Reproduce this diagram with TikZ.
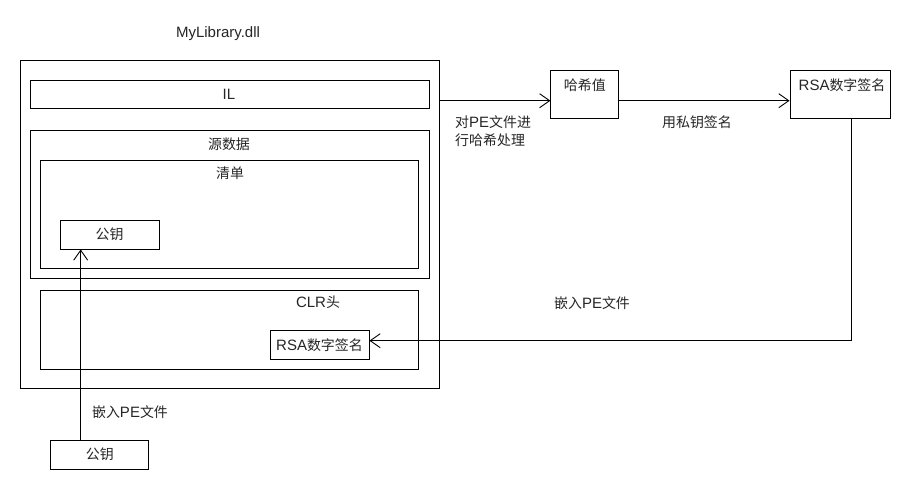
\documentclass[tikz,border=0pt]{standalone}
\usepackage{fontspec}
\setmainfont{Liberation Sans}
\newfontfamily\cjk{Noto Sans CJK SC}[Scale=0.93]
\usetikzlibrary{arrows.meta}
\begin{document}
\begin{tikzpicture}[x=1pt,y=-1pt,
  box/.style={draw=black,line width=0.9pt,minimum width=#1,inner sep=0pt},
  txt/.style={font=\fontsize{15}{17}\selectfont,inner sep=0pt,text=black!85},
  arr/.style={draw=black,line width=0.9pt,-{Straight Barb[length=10pt,width=14pt,line width=0.9pt]}},
  ln/.style={draw=black,line width=0.9pt}]
\useasboundingbox[fill=white] (0,0) rectangle (920,490);
% left structure
\node[box=419pt,minimum height=328pt] (outer) at (229.85,224.7) {};
\node[box=399pt,minimum height=28pt] (il) at (229.5,94.85) {};
\node[box=399pt,minimum height=148pt] (meta) at (229.5,204.85) {};
\node[box=378pt,minimum height=108pt] (mani) at (229.85,214.85) {};
\node[box=99pt,minimum height=29pt] (pkin) at (109.5,234.5) {};
\node[box=378pt,minimum height=79pt] (clr) at (229.85,329.5) {};
\node[box=99pt,minimum height=29pt] (rsain) at (319.5,344.5) {};
\node[box=98pt,minimum height=29pt] (pkout) at (99.85,454.5) {};
% right boxes
\node[box=68pt,minimum height=48pt] (hash) at (584.85,94.85) {};
\node[box=100pt,minimum height=48pt] (rsa) at (840,94.85) {};
% texts
\node[txt] (tlib) at (218,34) {MyLibrary.dll};
\node[txt] (til) at (229,94) {IL};
\node[txt] (tmeta) at (229,144) {\cjk 源数据};
\node[txt] (tmani) at (230,173) {\cjk 清单};
\node[txt] (tpkin) at (109.5,234.5) {\cjk 公钥};
\node[txt] (tclr) at (318,302) {CLR{\cjk 头}};
\node[txt] (trsain) at (319.5,345) {RSA{\cjk 数字签名}};
\node[txt] (tpkout) at (99.85,454.5) {\cjk 公钥};
\node[txt] (thash) at (584.85,85) {\cjk 哈希值};
\node[txt] (trsa) at (842,85) {RSA{\cjk 数字签名}};
\node[txt,anchor=west,align=left] (th1) at (455,131) {{\cjk 对}PE{\cjk 文件进}\\[1pt]{\cjk 行哈希处理}};
\node[txt] (tsign) at (697,122) {\cjk 用私钥签名};
\node[txt] (temb1) at (592,303) {{\cjk 嵌入}PE{\cjk 文件}};
\node[txt] (temb2) at (130,412) {{\cjk 嵌入}PE{\cjk 文件}};
% connectors
\coordinate (hy) at (0,100.7);
\coordinate (vx) at (851.7,0);
\coordinate (ry) at (0,340.7);
\coordinate (px) at (80.7,0);
\draw[arr] (outer.east |- hy) -- (hash.west |- hy);
\draw[arr] (hash.east |- hy) -- (rsa.west |- hy);
\draw[arr] (rsa.south -| vx) |- (rsain.east |- ry);
\draw[arr] (pkout.north -| px) -- (pkin.south -| px);
\end{tikzpicture}
\end{document}
